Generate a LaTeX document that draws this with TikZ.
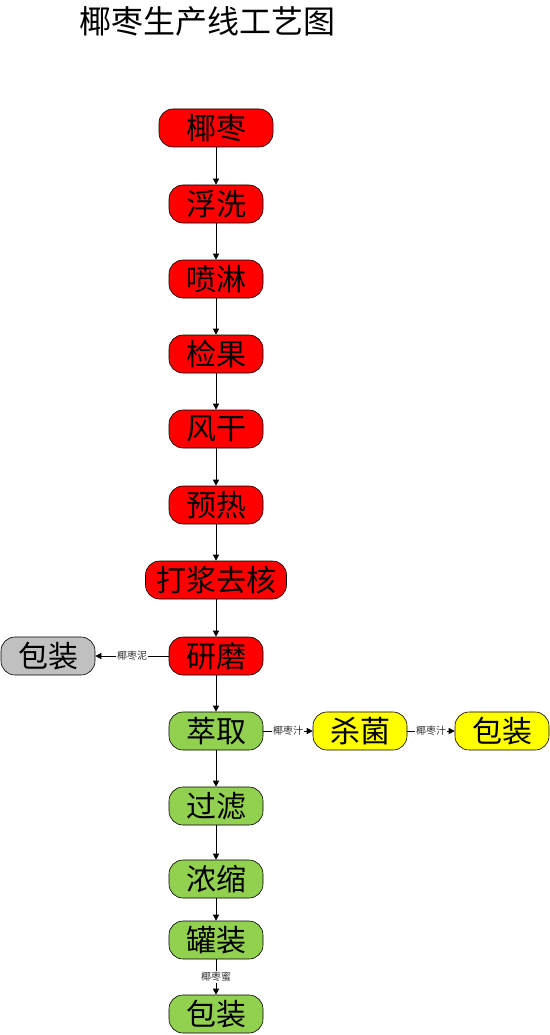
\documentclass[tikz,border=0pt]{standalone}
\usepackage{fontspec}
\setmainfont{Noto Sans CJK SC}
\usetikzlibrary{arrows.meta}
\definecolor{cred}{HTML}{FF0000}
\definecolor{cgreen}{HTML}{92D050}
\definecolor{cyellow}{HTML}{FFFF00}
\definecolor{cgray}{HTML}{C0C0C0}
\begin{document}
\begin{tikzpicture}[x=1pt,y=-1pt,
  box/.style={draw=black, line width=0.6pt, rounded corners=14pt, minimum height=38pt, minimum width=94pt, inner sep=0pt, font=\fontsize{30}{32}\selectfont},
  redbox/.style={box, fill=cred},
  greenbox/.style={box, fill=cgreen},
  yellowbox/.style={box, fill=cyellow},
  graybox/.style={box, fill=cgray},
  arr/.style={draw=black, line width=0.6pt, -{Triangle[length=6pt,width=6pt]}},
  lab/.style={fill=white, inner sep=1pt, font=\fontsize{10}{11}\selectfont, text=black!80}
]
\useasboundingbox (0,0) rectangle (549,1035);
\node[font=\fontsize{32}{34}\selectfont] (title) at (207,21) {椰枣生产线工艺图};
\node[redbox, minimum width=114pt] (n1) at (216,128) {椰枣};
\node[redbox] (n2) at (216,204) {浮洗};
\node[redbox] (n3) at (216,279) {喷淋};
\node[redbox] (n4) at (216,354) {检果};
\node[redbox] (n5) at (216,429) {风干};
\node[redbox] (n6) at (216,505) {预热};
\node[redbox, minimum width=141pt] (n7) at (216,580) {打浆去核};
\node[redbox] (n8) at (216,656) {研磨};
\node[graybox] (p1) at (48,656) {包装};
\node[greenbox] (n9) at (216,731) {萃取};
\node[yellowbox] (s1) at (360,731) {杀菌};
\node[yellowbox] (p2) at (502,731) {包装};
\node[greenbox] (n10) at (216,806) {过滤};
\node[greenbox] (n11) at (216,879) {浓缩};
\node[greenbox] (n12) at (216,940) {罐装};
\node[greenbox] (p3) at (216,1014) {包装};
\draw[arr] (n1) -- (n2);
\draw[arr] (n2) -- (n3);
\draw[arr] (n3) -- (n4);
\draw[arr] (n4) -- (n5);
\draw[arr] (n5) -- (n6);
\draw[arr] (n6) -- (n7);
\draw[arr] (n7) -- (n8);
\draw[arr] (n8) -- (n9);
\draw[arr] (n8) -- node[lab]{椰枣泥} (p1);
\draw[arr] (n9) -- node[lab]{椰枣汁} (s1);
\draw[arr] (s1) -- node[lab]{椰枣汁} (p2);
\draw[arr] (n9) -- (n10);
\draw[arr] (n10) -- (n11);
\draw[arr] (n11) -- (n12);
\draw[arr] (n12) -- node[lab]{椰枣蜜} (p3);
\end{tikzpicture}
\end{document}
